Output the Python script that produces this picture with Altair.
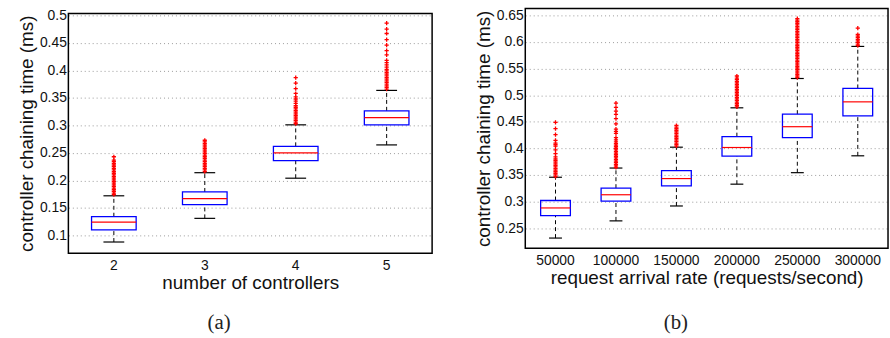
import altair as alt
import pandas as pd

# ---------------- Panel (a): number of controllers ----------------
a_cats = ["2", "3", "4", "5"]
a_low = [0.088, 0.131, 0.204, 0.2645]
a_q1 = [0.110, 0.156, 0.236, 0.301]
a_med = [0.124, 0.1667, 0.250, 0.314]
a_q3 = [0.134, 0.179, 0.262, 0.3265]
a_high = [0.172, 0.214, 0.301, 0.3636]
a_out_2 = [0.174, 0.177, 0.180, 0.183, 0.186, 0.189, 0.192, 0.195, 0.198, 0.201, 0.204,
           0.207, 0.210, 0.213, 0.216, 0.219, 0.222, 0.225, 0.228, 0.231, 0.234, 0.237, 0.243]
a_out_3 = [0.216, 0.219, 0.222, 0.225, 0.228, 0.231, 0.234, 0.237, 0.240, 0.243, 0.246,
           0.249, 0.252, 0.255, 0.258, 0.261, 0.264, 0.267, 0.270, 0.273]
a_out_4 = [0.303, 0.306, 0.309, 0.312, 0.315, 0.318, 0.321, 0.324, 0.327, 0.330, 0.333,
           0.336, 0.340, 0.344, 0.348, 0.352, 0.358, 0.367, 0.377, 0.387]
a_out_5 = [0.366, 0.369, 0.372, 0.375, 0.378, 0.381, 0.384, 0.387, 0.390, 0.393, 0.396,
           0.399, 0.402, 0.406, 0.410, 0.414, 0.418, 0.428, 0.436, 0.446, 0.456, 0.467,
           0.475, 0.486]
a_outliers = [a_out_2, a_out_3, a_out_4, a_out_5]
a_yticks = [0.1, 0.15, 0.2, 0.25, 0.3, 0.35, 0.4, 0.45, 0.5]
a_ydomain = [0.0676, 0.5036]
a_xtitle = "number of controllers"
a_caption = "(a)"

# ---------------- Panel (b): request arrival rate ----------------
b_cats = ["50000", "100000", "150000", "200000", "250000", "300000"]
b_low = [0.2314, 0.2637, 0.2917, 0.3327, 0.3543, 0.386]
b_q1 = [0.2736, 0.301, 0.3296, 0.3854, 0.4202, 0.4612]
b_med = [0.288, 0.3128, 0.3432, 0.4016, 0.4407, 0.4874]
b_q3 = [0.302, 0.3252, 0.358, 0.422, 0.4643, 0.5127]
b_high = [0.3457, 0.363, 0.4022, 0.4762, 0.5313, 0.5916]
b_out_1 = [0.347, 0.350, 0.353, 0.356, 0.359, 0.362, 0.365, 0.368, 0.371, 0.374, 0.377,
           0.380, 0.384, 0.390, 0.397, 0.404, 0.407, 0.410, 0.415, 0.426, 0.437, 0.449]
b_out_2 = [0.364, 0.367, 0.370, 0.373, 0.376, 0.379, 0.382, 0.385, 0.388, 0.391, 0.394,
           0.397, 0.400, 0.403, 0.406, 0.409, 0.412, 0.416, 0.420, 0.428, 0.432, 0.436,
           0.446, 0.456, 0.464, 0.470, 0.477, 0.485]
b_out_3 = [0.404, 0.407, 0.410, 0.413, 0.416, 0.419, 0.422, 0.425, 0.428, 0.431, 0.434,
           0.437, 0.440, 0.443]
b_out_4 = [0.478, 0.481, 0.484, 0.487, 0.490, 0.493, 0.496, 0.499, 0.502, 0.505, 0.508,
           0.511, 0.514, 0.517, 0.520, 0.523, 0.526, 0.529, 0.532, 0.536]
b_out_5 = [0.533, 0.536, 0.539, 0.542, 0.545, 0.548, 0.551, 0.554, 0.557, 0.560, 0.563,
           0.566, 0.569, 0.572, 0.575, 0.578, 0.581, 0.584, 0.587, 0.590, 0.593, 0.596,
           0.599, 0.602, 0.605, 0.608, 0.611, 0.614, 0.617, 0.620, 0.623, 0.626, 0.629,
           0.632, 0.635, 0.638, 0.641, 0.644]
b_out_6 = [0.593, 0.596, 0.599, 0.602, 0.605, 0.608, 0.611, 0.614, 0.626]
b_outliers = [b_out_1, b_out_2, b_out_3, b_out_4, b_out_5, b_out_6]
b_yticks = [0.25, 0.3, 0.35, 0.4, 0.45, 0.5, 0.55, 0.6, 0.65]
b_ydomain = [0.2122, 0.663]
b_xtitle = "request arrival rate (requests/second)"
b_caption = "(b)"

YTITLE = "controller chaining time (ms)"
PLUS = "M-1,0H1M0,-1V1"


def panel(cats, low, q1, med, q3, high, outliers, ydomain, yticks, xtitle, caption,
          width, plot_h, top_off, boxw, capw, cap_dy):
    height = plot_h + top_off
    box = pd.DataFrame({"cat": cats, "low": low, "q1": q1, "med": med, "q3": q3, "high": high})
    out = pd.DataFrame(
        [(c, v) for c, vals in zip(cats, outliers) for v in vals], columns=["cat", "v"]
    )
    xaxis = alt.Axis(title=xtitle, labelAngle=0, labelPadding=5, titlePadding=2,
                     ticks=False, tickSize=0, domain=False, grid=False)
    xenc = alt.X("cat:N", sort=cats,
                 scale=alt.Scale(domain=cats, paddingInner=0, paddingOuter=0),
                 axis=xaxis)
    yscale = alt.Scale(domain=ydomain, nice=False, zero=False, range=[height, top_off])
    yaxis = alt.Axis(title=YTITLE, values=yticks, format=".2~f", grid=True,
                     gridDash=[1, 3], gridColor="#9a9a9a", gridWidth=1,
                     ticks=False, tickSize=0, domain=False,
                     labelPadding=2, titlePadding=3)

    def Y(field):
        return alt.Y(field, scale=yscale, axis=yaxis)

    base = alt.Chart(box)
    w_low = base.mark_rule(color="black", strokeDash=[4, 3], strokeWidth=1).encode(
        x=xenc, y=Y("low:Q"), y2="q1:Q")
    w_high = base.mark_rule(color="black", strokeDash=[4, 3], strokeWidth=1).encode(
        x=xenc, y=Y("q3:Q"), y2="high:Q")
    c_low = base.mark_tick(color="black", size=capw, thickness=1.2, opacity=1).encode(
        x=xenc, y=Y("low:Q"))
    c_high = base.mark_tick(color="black", size=capw, thickness=1.2, opacity=1).encode(
        x=xenc, y=Y("high:Q"))
    rect = base.mark_bar(width=boxw, fillOpacity=0, stroke="#0000ff", strokeWidth=1.3).encode(
        x=xenc, y=Y("q1:Q"), y2="q3:Q")
    medl = base.mark_tick(color="#ff0000", size=boxw, thickness=1.2, opacity=1).encode(
        x=xenc, y=Y("med:Q"))
    pts = alt.Chart(out).mark_point(shape=PLUS, size=18, color="#ff0000", filled=False,
                                    strokeWidth=1.3, opacity=1).encode(
        x=xenc, y=Y("v:Q"))
    one = pd.DataFrame({"t": [caption]})
    frame = alt.Chart(one).mark_rect(fillOpacity=0, stroke="black", strokeWidth=1.5).encode(
        x=alt.value(0), x2=alt.value(width), y=alt.value(top_off), y2=alt.value(height))
    cap = alt.Chart(one).mark_text(
        font="Liberation Serif", fontSize=21, color="#222222", baseline="middle", align="center"
    ).encode(text="t:N", x=alt.value(152), y=alt.value(height + cap_dy))
    return alt.layer(w_low, w_high, c_low, c_high, rect, medl, pts, frame, cap).properties(
        width=width, height=height, view=alt.ViewBackground(stroke="transparent"))


pa = panel(a_cats, a_low, a_q1, a_med, a_q3, a_high, a_outliers, a_ydomain, a_yticks,
           a_xtitle, a_caption, 367, 242, 5, 45, 21, 70)
pb = panel(b_cats, b_low, b_q1, b_med, b_q3, b_high, b_outliers, b_ydomain, b_yticks,
           b_xtitle, b_caption, 366, 242, 0, 30, 13, 75)

chart = alt.hconcat(pa, pb, spacing=40).properties(
    padding={"left": 17, "top": 5, "right": 0, "bottom": 0},
    background="white",
).configure_view(
    stroke="transparent"
).configure_axis(
    labelFont="Liberation Sans", labelFontSize=14, labelColor="#111111",
    titleFont="Liberation Sans", titleFontSize=19, titleFontWeight="normal",
    titleColor="#111111",
)

chart.save("out.html", embed_options={"renderer": "svg", "actions": False})
